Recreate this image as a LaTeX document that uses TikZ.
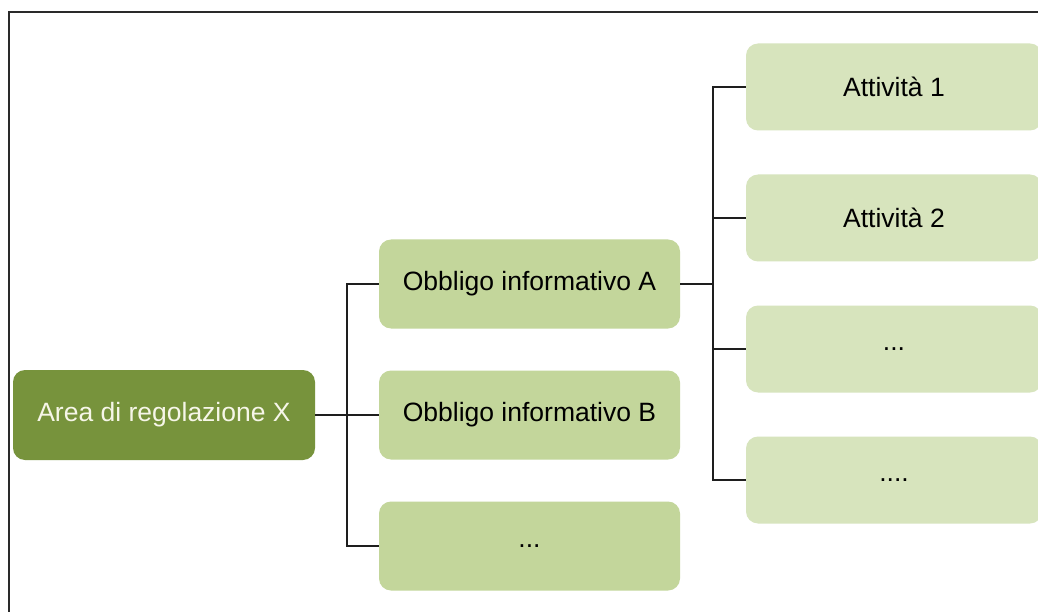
\documentclass[tikz,border=0pt]{standalone}
\usepackage{fontspec}
\setmainfont{Liberation Sans}
\definecolor{darkgreen}{HTML}{77933C}
\definecolor{midgreen}{HTML}{C3D69B}
\definecolor{lightgreen}{HTML}{D7E4BD}
\definecolor{linecol}{HTML}{1E1E1E}
\definecolor{frameline}{HTML}{2A2A2A}
\definecolor{paletext}{HTML}{F6F6E8}
\tikzset{
  box/.style={rectangle, rounded corners=12pt, draw=none, inner sep=0pt,
    font=\fontsize{26.5}{31}\selectfont, text=black},
  rootbox/.style={box, fill=darkgreen, text=paletext, minimum width=302pt, minimum height=90pt},
  midbox/.style={box, fill=midgreen, minimum width=301pt, minimum height=89pt},
  leafbox/.style={box, fill=lightgreen, minimum width=296pt, minimum height=87pt},
  conn/.style={draw=linecol, line width=1.5pt},
}
\begin{document}
\begin{tikzpicture}[x=1pt, y=-1pt]
\useasboundingbox (0,0) rectangle (1038,612);
\clip (0,0) rectangle (1038,612);
\fill[white] (0,0) rectangle (1038,612);
\draw[frameline, line width=2pt] (9,614) -- (9,12) -- (1040,12);

\node[rootbox] (root) at (164,415) {Area di regolazione X};
\node[midbox] (oa) at (529.5,284) {Obbligo informativo A};
\node[midbox] (ob) at (529.5,415) {Obbligo informativo B};
\node[midbox] (oc) at (529.5,546) {...};
\node[leafbox] (r1) at (894,87) {Attività 1};
\node[leafbox] (r2) at (894,218) {Attività 2};
\node[leafbox] (r3) at (894,349) {...};
\node[leafbox] (r4) at (894,480) {....};

\coordinate (jl) at (347,415);
\coordinate (jr) at (713,284);

\draw[conn] (root.east) -- (jl);
\draw[conn] (jl) -- (ob.west);
\draw[conn] (jl) |- (oa.west);
\draw[conn] (jl) |- (oc.west);

\draw[conn] (oa.east) -- (jr);
\draw[conn] (jr) |- (r1.west);
\draw[conn] (jr) |- (r2.west);
\draw[conn] (jr) |- (r3.west);
\draw[conn] (jr) |- (r4.west);
\end{tikzpicture}
\end{document}
